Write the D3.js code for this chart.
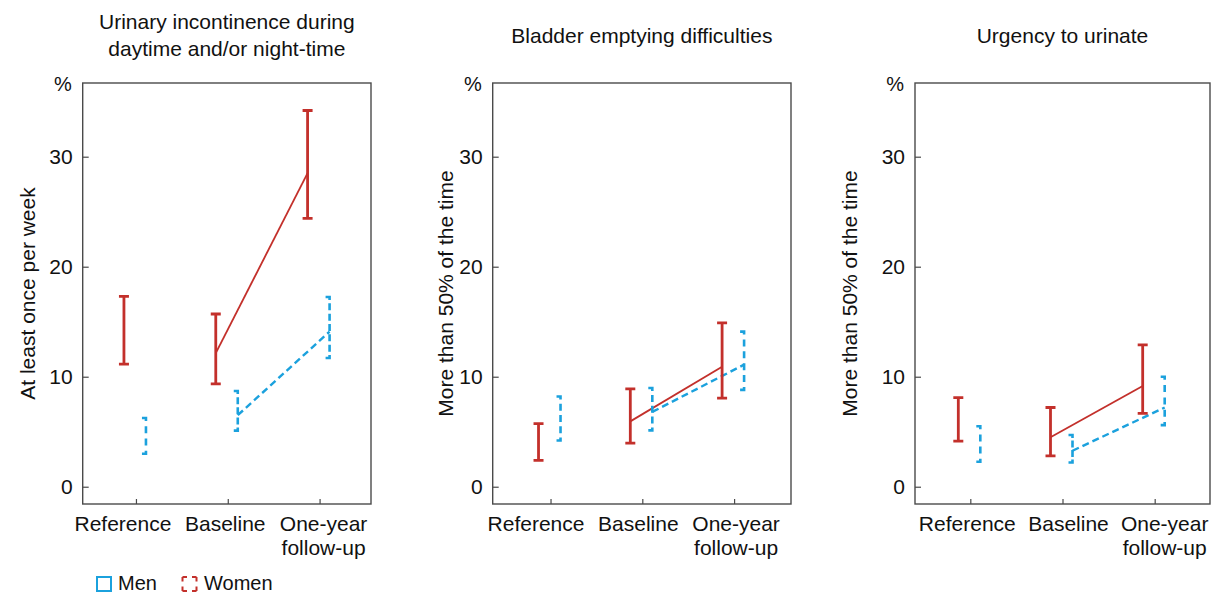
<!DOCTYPE html>
<html>
<head>
<meta charset="utf-8">
<script src="https://cdn.jsdelivr.net/npm/d3@7"></script>
<style>
  body { margin: 0; background: #fff; }
  text { font-family: "Liberation Sans", Arial, sans-serif; fill: #111; }
</style>
</head>
<body>
<svg id="chart" width="1212" height="592"></svg>
<script>
// categories and labels
const categories = [["Reference"], ["Baseline"], ["One-year", "follow-up"]];
const panelTitles = [
    ["Urinary incontinence during", "daytime and/or night-time"],
    ["Bladder emptying difficulties"],
    ["Urgency to urinate"]
];
const yLabels = ["At least once per week", "More than 50% of the time", "More than 50% of the time"];
const yTicks = [0, 10, 20, 30];

// women (red, solid) - lower / upper limits and means per category
const womenLow  = [[11.15, 9.35, 24.4], [2.4, 3.97, 8.06], [4.15, 2.8, 6.67]];
const womenHigh = [[17.3, 15.7, 34.2], [5.73, 8.9, 14.9], [8.1, 7.2, 12.9]];
const womenMean = [[null, 12.15, 28.5], [null, 5.94, 10.9], [null, 4.5, 9.15]];

// men (blue, dashed)
const menLow  = [[3.0, 5.1, 11.7], [4.2, 5.12, 8.8], [2.27, 2.2, 5.6]];
const menHigh = [[6.25, 8.7, 17.25], [8.2, 8.97, 14.1], [5.5, 4.7, 10.0]];
const menMean = [[null, 6.5, 14.1], [null, 6.8, 11.1], [null, 3.27, 7.2]];

const legendItems = ["Men", "Women"];

// layout
const RED = "#c3302b", BLUE = "#1ba1dd", AXIS = "#4a4a4a";
const panels = [
    {left: 82.7, right: 371, padL: 0.58, padR: 0.56, labelShift: [-13, -2.5, 4], yLabX: 35},
    {left: 492.7, right: 791, padL: 0.63, padR: 0.62, labelShift: [-14.5, -4, 2], yLabX: 453},
    {left: 915, right: 1210, padL: 0.6, padR: 0.6, labelShift: [-3, 6, 10], yLabX: 857}
];
const plotTop = 83, plotBottom = 504;

const svg = d3.select("#chart");

const y = d3.scaleLinear().domain([-1.57, 36.7]).range([plotBottom, plotTop]);

// dash pattern that begins and ends with a dash
function fitDash(len, dash, gap) {
    const n = Math.max(2, Math.round((len + gap) / (dash + gap)));
    const g = (len - n * dash) / (n - 1);
    return dash + "," + Math.max(g, 1.5);
}

panels.forEach(function (p, i) {
    const x = d3.scaleLinear().domain([-p.padL, 2 + p.padR]).range([p.left, p.right]);
    const redX = function (k) { return x(k) - 12; };
    const blueX = function (k) { return x(k) + 10; };
    const g = svg.append("g");

    // title
    const t = g.append("text")
        .attr("text-anchor", "middle")
        .attr("font-size", 21);
    const lines = panelTitles[i];
    lines.forEach(function (ln, j) {
        t.append("tspan")
            .attr("x", (p.left + p.right) / 2)
            .attr("y", lines.length > 1 ? 29 + j * 27 : 43)
            .text(ln);
    });

    // percent sign
    g.append("text").attr("x", p.left - 11).attr("y", 91)
        .attr("text-anchor", "end").attr("font-size", 20).text("%");

    // y axis
    const ya = g.append("g")
        .attr("transform", "translate(" + p.left + ",0)")
        .call(d3.axisLeft(y).tickValues(yTicks).tickSize(-6).tickPadding(10));
    ya.select(".domain").remove();
    ya.selectAll(".tick line").attr("stroke", AXIS).attr("stroke-width", 1.2);
    ya.selectAll(".tick text").attr("font-size", 21).attr("font-family", "Liberation Sans, Arial, sans-serif").attr("fill", "#111");

    // x axis
    const xa = g.append("g")
        .attr("transform", "translate(0," + plotBottom + ")")
        .call(d3.axisBottom(x).tickValues([0, 1, 2]).tickSize(-5).tickFormat(""));
    xa.select(".domain").remove();
    xa.selectAll(".tick line").attr("stroke", AXIS).attr("stroke-width", 1.2);

    categories.forEach(function (c, k) {
        const tx = g.append("text").attr("text-anchor", "middle").attr("font-size", 21);
        c.forEach(function (ln, j) {
            tx.append("tspan").attr("x", x(k) + p.labelShift[k]).attr("y", 531 + j * 24).text(ln);
        });
    });

    // frame
    g.append("rect")
        .attr("x", p.left).attr("y", plotTop)
        .attr("width", p.right - p.left).attr("height", plotBottom - plotTop)
        .attr("fill", "none").attr("stroke", AXIS).attr("stroke-width", 1.4);

    // y label
    g.append("text")
        .attr("transform", "translate(" + p.yLabX + "," + ((plotTop + plotBottom) / 2) + ") rotate(-90)")
        .attr("text-anchor", "middle").attr("font-size", 21)
        .text(yLabels[i]);

    // connecting lines baseline -> one-year
    const redLine = d3.line().x(function (d) { return redX(d.k); }).y(function (d) { return y(d.v); });
    const blueLine = d3.line().x(function (d) { return blueX(d.k); }).y(function (d) { return y(d.v); });
    const rPts = womenMean[i].map(function (v, k) { return {k: k, v: v}; }).filter(function (d) { return d.v !== null; });
    const bPts = menMean[i].map(function (v, k) { return {k: k, v: v}; }).filter(function (d) { return d.v !== null; });

    g.append("path").attr("d", blueLine(bPts)).attr("fill", "none")
        .attr("stroke", BLUE).attr("stroke-width", 2.4).attr("stroke-dasharray", "7,4");
    g.append("path").attr("d", redLine(rPts)).attr("fill", "none")
        .attr("stroke", RED).attr("stroke-width", 1.8);

    // blue dashed brackets
    g.selectAll(".menbar")
        .data(d3.range(3))
        .enter().append("path")
        .attr("class", "menbar")
        .attr("d", function (k) {
            const bx = blueX(k), t0 = y(menHigh[i][k]), b0 = y(menLow[i][k]);
            return "M" + (bx - 4) + "," + t0 + "H" + bx + "V" + b0 + "H" + (bx - 4);
        })
        .attr("fill", "none").attr("stroke", BLUE).attr("stroke-width", 2.6)
        .attr("stroke-dasharray", function (k) {
            const len = 8 + (y(menLow[i][k]) - y(menHigh[i][k]));
            return fitDash(len, 7, 4);
        });

    // red error bars
    g.selectAll(".womenbar")
        .data(d3.range(3))
        .enter().append("path")
        .attr("class", "womenbar")
        .attr("d", function (k) {
            const rx = redX(k), t0 = y(womenHigh[i][k]), b0 = y(womenLow[i][k]);
            return "M" + (rx - 5) + "," + t0 + "H" + (rx + 5) +
                "M" + rx + "," + t0 + "V" + b0 +
                "M" + (rx - 5) + "," + b0 + "H" + (rx + 5);
        })
        .attr("fill", "none").attr("stroke", RED).attr("stroke-width", 2.8);
});

// legend
const lg = svg.append("g");
lg.append("rect").attr("x", 97).attr("y", 577).attr("width", 14).attr("height", 14)
    .attr("fill", "none").attr("stroke", BLUE).attr("stroke-width", 2);
lg.append("text").attr("x", 118).attr("y", 589.5).attr("font-size", 20).text(legendItems[0]);
lg.append("rect").attr("x", 182.5).attr("y", 577).attr("width", 14).attr("height", 14)
    .attr("fill", "none").attr("stroke", RED).attr("stroke-width", 2)
    .attr("stroke-dasharray", "4.5,5,4.5,0");
lg.append("text").attr("x", 204).attr("y", 589.5).attr("font-size", 20).text(legendItems[1]);
</script>
</body>
</html>
